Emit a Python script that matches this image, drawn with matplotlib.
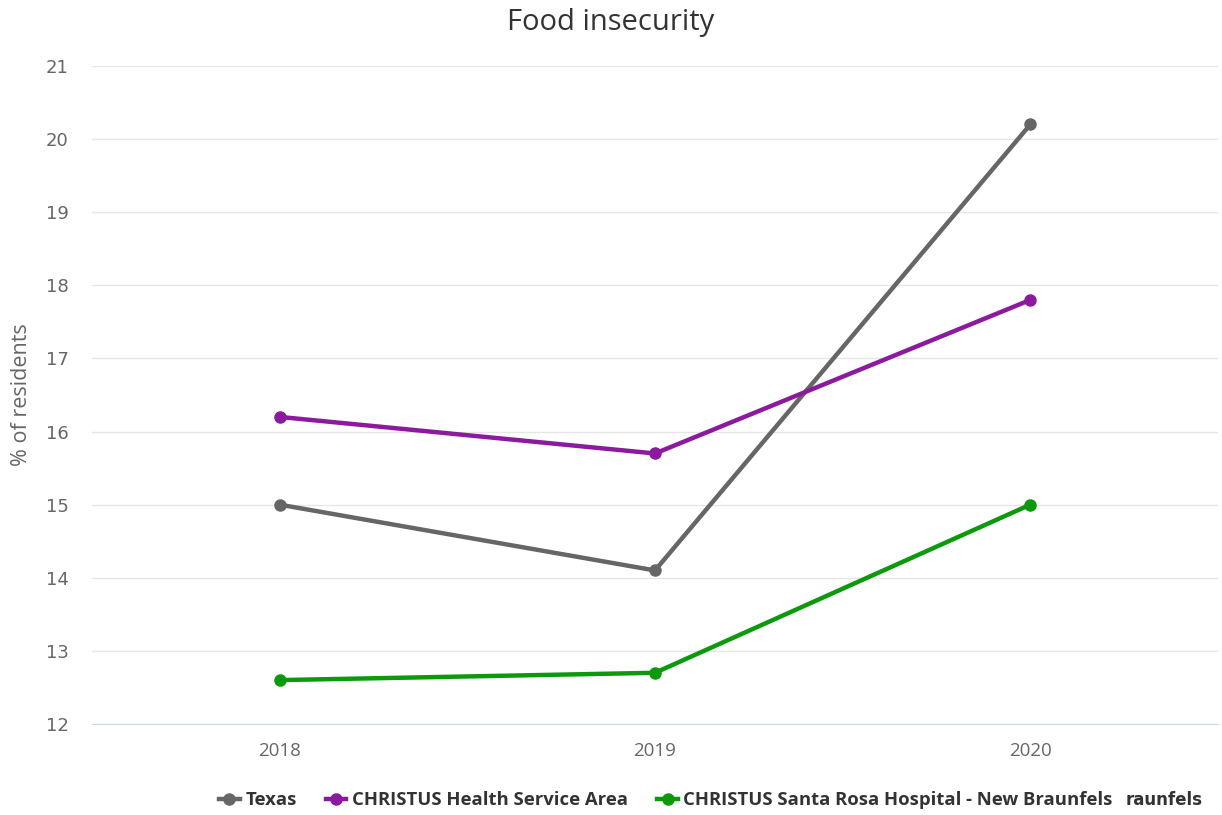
import matplotlib
matplotlib.use("Agg")
import matplotlib.pyplot as plt

years = ["2018", "2019", "2020"]
texas = [15.0, 14.1, 20.2]
christus_area = [16.2, 15.7, 17.8]
santa_rosa = [12.6, 12.7, 15.0]

series_names = ["Texas", "CHRISTUS Health Service Area",
                "CHRISTUS Santa Rosa Hospital - New Braunfels"]
series_colors = ["#666666", "#8b1a9e", "#0c990c"]

plt.rcParams["font.family"] = ["Open Sans", "DejaVu Sans"]

fig = plt.figure(figsize=(12.22, 8.15), dpi=100)
ax = fig.add_axes([0.0753, 0.1117, 0.9214, 0.8073])

x = range(len(years))
for vals, name, col in zip([texas, christus_area, santa_rosa], series_names, series_colors):
    ax.plot(x, vals, color=col, lw=3.2, marker="o", ms=8, label=name, zorder=3)

ax.set_xlim(-0.5, 2.5)
ax.set_ylim(12, 21)
ax.set_yticks(range(12, 22))
ax.set_xticks(list(x))
ax.set_xticklabels(years)
ax.grid(axis="y", color="#e6e6e6", lw=1)
ax.set_axisbelow(True)
for s in ["top", "right", "left"]:
    ax.spines[s].set_visible(False)
ax.spines["bottom"].set_color("#ccd6eb")
ax.tick_params(axis="both", length=0, colors="#666666")
ax.tick_params(axis="y", pad=17, labelsize=13)
ax.tick_params(axis="x", pad=13, labelsize=13.5)
for lbl in ax.get_yticklabels():
    lbl.set_family("DejaVu Sans")

ax.set_ylabel("% of residents", color="#666666", fontsize=15.5, labelpad=10)
fig.text(0.5, 0.973, "Food insecurity", ha="center", va="center",
         fontsize=21, color="#333333")

leg = fig.legend(loc="center", bbox_to_anchor=(0.545, 0.018), ncol=3, frameon=False,
                 handlelength=1.1, columnspacing=1.6, handletextpad=0.3,
                 prop={"weight": "bold", "size": 13.3})
for t in leg.get_texts():
    t.set_color("#333333")
fig.text(0.9215, 0.018, "raunfels", ha="left", va="center", fontsize=12,
         fontweight="bold", color="#333333", family="DejaVu Sans")

fig.savefig("out.png", dpi=100)
